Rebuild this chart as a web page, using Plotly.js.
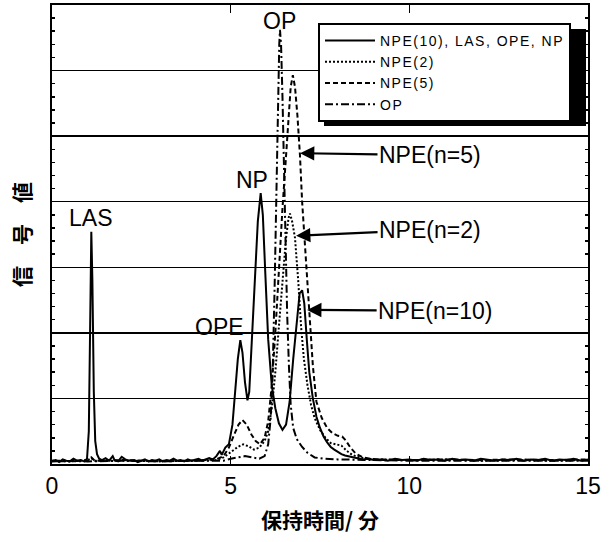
<!DOCTYPE html>
<html>
<head>
<meta charset="utf-8">
<script src="https://cdn.plot.ly/plotly-3.0.1.min.js"></script>
<style>
html,body{margin:0;padding:0;background:#fff;}
#chart{width:616px;height:542px;}
.legendtext{letter-spacing:1.5px;}
</style>
</head>
<body>
<div id="chart"></div>
<script>
// ---- data ----
const seriesNames = ["NPE(10), LAS, OPE, NP", "NPE(2)", "NPE(5)", "OP"];

const solidX = [0.00,0.10,0.20,0.30,0.40,0.50,0.60,0.70,0.80,0.90,0.98,1.03,1.07,1.10,1.13,1.17,1.21,1.26,1.32,1.40,1.50,1.60,1.70,1.75,1.85,1.95,2.05,2.15,2.30,2.40,2.50,2.60,2.70,2.80,2.90,3.00,3.10,3.20,3.30,3.40,3.50,3.60,3.70,3.80,3.90,4.00,4.10,4.20,4.30,4.40,4.50,4.60,4.70,4.75,4.85,4.95,5.05,5.12,5.20,5.27,5.33,5.40,5.47,5.52,5.60,5.68,5.76,5.84,5.90,5.97,6.05,6.15,6.25,6.35,6.45,6.55,6.65,6.75,6.85,6.93,7.00,7.06,7.13,7.20,7.30,7.40,7.50,7.60,7.70,7.80,7.90,8.00,8.10,8.20,8.30,8.40,8.55,8.70,8.85,9.00,9.20,9.40,9.60,9.80,10.0,10.2,10.4,10.6,10.8,11.0,11.2,11.4,11.6,11.8,12.0,12.2,12.4,12.6,12.8,13.0,13.2,13.4,13.6,13.8,14.0,14.2,14.4,14.6,14.8,15.0];
const solidY = [0.04,0.06,0.03,0.07,0.05,0.04,0.08,0.05,0.06,0.04,0.08,0.50,2.20,3.54,2.80,1.10,0.35,0.15,0.08,0.06,0.09,0.05,0.12,0.06,0.04,0.11,0.07,0.05,0.06,0.03,0.05,0.07,0.04,0.06,0.05,0.07,0.04,0.06,0.05,0.08,0.05,0.06,0.04,0.07,0.05,0.06,0.08,0.05,0.07,0.09,0.07,0.12,0.20,0.14,0.25,0.30,0.60,1.10,1.60,1.89,1.70,1.25,0.97,1.10,1.90,2.90,3.70,4.13,3.80,2.90,1.90,1.20,0.85,0.62,0.52,0.60,0.95,1.60,2.20,2.60,2.65,2.45,1.90,1.40,1.00,0.72,0.55,0.42,0.33,0.26,0.22,0.18,0.15,0.13,0.12,0.10,0.09,0.07,0.08,0.06,0.07,0.05,0.08,0.06,0.07,0.05,0.08,0.06,0.07,0.05,0.08,0.06,0.07,0.05,0.08,0.06,0.05,0.07,0.06,0.08,0.05,0.07,0.06,0.08,0.05,0.07,0.06,0.08,0.05,0.07];

const npe2X = [0.0,0.5,1.0,1.1,1.2,2.0,3.0,4.0,4.6,4.8,5.0,5.2,5.35,5.5,5.65,5.8,5.95,6.05,6.15,6.25,6.35,6.45,6.55,6.62,6.66,6.72,6.80,6.89,6.97,7.05,7.15,7.25,7.35,7.5,7.65,7.8,7.95,8.1,8.25,8.4,8.6,8.8,9.0,10,11,12,13,14,15];
const npe2Y = [0.05,0.04,0.06,0.09,0.05,0.05,0.04,0.05,0.06,0.10,0.18,0.26,0.30,0.27,0.22,0.25,0.35,0.50,0.85,1.40,2.10,2.80,3.45,3.75,3.82,3.70,3.45,2.80,2.10,1.60,1.20,0.90,0.70,0.52,0.40,0.32,0.30,0.28,0.20,0.14,0.10,0.08,0.07,0.06,0.07,0.05,0.06,0.05,0.06];

const npe5X = [0.0,1.0,1.1,1.2,2.0,3.0,4.0,4.6,4.8,4.95,5.1,5.22,5.33,5.45,5.58,5.7,5.82,5.95,6.05,6.15,6.25,6.35,6.45,6.55,6.62,6.68,6.74,6.80,6.87,6.94,7.00,7.08,7.14,7.22,7.30,7.40,7.55,7.70,7.85,8.00,8.12,8.22,8.35,8.5,8.7,8.9,9.2,10,11,12,13,14,15];
const npe5Y = [0.04,0.05,0.10,0.05,0.06,0.04,0.05,0.07,0.12,0.25,0.45,0.60,0.67,0.60,0.45,0.35,0.30,0.40,0.65,1.20,2.00,3.00,3.90,4.70,5.30,5.75,5.93,5.75,5.30,4.70,4.00,3.30,2.80,2.10,1.50,0.95,0.70,0.55,0.47,0.43,0.42,0.36,0.25,0.16,0.10,0.08,0.07,0.06,0.07,0.06,0.07,0.06,0.07];

const opX = [0,1,2,3,4,4.8,5.0,5.2,5.4,5.6,5.8,5.95,6.05,6.12,6.18,6.23,6.28,6.32,6.36,6.38,6.41,6.45,6.49,6.53,6.58,6.63,6.68,6.75,6.85,7.0,7.15,7.35,7.6,8.0,9,10,15];
const opY = [0.05,0.04,0.05,0.04,0.05,0.05,0.08,0.10,0.12,0.10,0.08,0.12,0.30,0.70,1.50,2.70,4.20,5.50,6.40,6.62,6.40,5.60,4.50,3.40,2.30,1.50,0.90,0.55,0.38,0.26,0.17,0.10,0.08,0.07,0.06,0.05,0.05];

const xTickVals = [0, 5, 10, 15];
const xTickText = ["0", "5", "10", "15"];

const peakLabels = ["OP", "NP", "LAS", "OPE"];
const peakLabelX = [6.38, 5.60, 1.09, 4.70];
const peakLabelY = [6.76, 4.33, 3.75, 2.09];

const arrowLabels = ["NPE(n=5)", "NPE(n=2)", "NPE(n=10)"];
const arrowTipX = [6.94, 6.83, 7.14];
const arrowTipY = [4.74, 3.48, 2.35];
const arrowAx = [130, 134, 128];
const arrowAy = [2, -6, 1];

// ---- chart ----
const AR = "Arial, 'Liberation Sans', sans-serif";
const traces = [
  {x: solidX, y: solidY, name: seriesNames[0], mode: "lines", line: {color: "#000", width: 2}},
  {x: npe2X, y: npe2Y, name: seriesNames[1], mode: "lines", line: {color: "#000", width: 2, dash: "2px,2px"}},
  {x: npe5X, y: npe5Y, name: seriesNames[2], mode: "lines", line: {color: "#000", width: 2, dash: "5px,3px"}},
  {x: opX, y: opY, name: seriesNames[3], mode: "lines", line: {color: "#000", width: 2, dash: "8px,3px,2px,3px"}}
];

const annotations = [];
for (let i = 0; i < peakLabels.length; i++) {
  annotations.push({x: peakLabelX[i], y: peakLabelY[i], xref: "x", yref: "y", text: peakLabels[i],
    showarrow: false, font: {family: AR, size: 23, color: "#000"}});
}
for (let i = 0; i < arrowLabels.length; i++) {
  annotations.push({x: arrowTipX[i], y: arrowTipY[i], xref: "x", yref: "y", text: arrowLabels[i],
    showarrow: true, ax: arrowAx[i], ay: arrowAy[i], arrowhead: 2, arrowsize: 1.3, arrowwidth: 2.2,
    arrowcolor: "#000", font: {family: AR, size: 23, color: "#000"}});
}

const L = 52, R = 588, T = 5, B = 464;
const px = v => (v - L) / (R - L);
const py = v => (B - v) / (B - T);

const layout = {
  width: 616, height: 542,
  margin: {l: L, r: 616 - R, t: T, b: 542 - B},
  paper_bgcolor: "#fff", plot_bgcolor: "#fff",
  showlegend: true,
  legend: {x: px(318), y: py(23), xanchor: "left", yanchor: "top",
    bgcolor: "#fff", bordercolor: "#000", borderwidth: 2,
    font: {family: AR, size: 14, color: "#000"}, itemwidth: 50, tracegroupgap: 0},
  xaxis: {range: [0, 15], tickvals: xTickVals, ticktext: xTickText, ticks: "inside", ticklen: 8, tickwidth: 1.5,
    tickcolor: "#000", mirror: "ticks", showline: true, linecolor: "#000", linewidth: 2,
    showgrid: false, zeroline: false, automargin: false,
    tickfont: {family: AR, size: 23, color: "#000"},
    title: {text: "保持時間/ 分", standoff: 16, font: {family: "'Noto Sans CJK JP', sans-serif", size: 21, color: "#000", weight: "bold"}}},
  yaxis: {range: [0, 7], dtick: 1, ticks: "inside", ticklen: 6, tickwidth: 1.5, tickcolor: "#000",
    mirror: "ticks", showline: true, linecolor: "#000", linewidth: 2, showticklabels: false,
    showgrid: true, gridcolor: "#000", gridwidth: 1.5, zeroline: false, automargin: false,
    minor: {dtick: 0.2, ticks: "inside", ticklen: 3, tickcolor: "#000", showgrid: false},
    title: {text: "信　号　値", standoff: 14, font: {family: "'Noto Sans CJK JP', sans-serif", size: 21, color: "#000", weight: "bold"}}},
  shapes: [
    {type: "rect", xref: "paper", yref: "paper", x0: px(324), x1: px(586), y0: py(126), y1: py(29),
      fillcolor: "#000", line: {width: 0}, layer: "above"}
  ],
  annotations: annotations
};

Plotly.newPlot("chart", traces, layout, {staticPlot: true, displayModeBar: false});
</script>
</body>
</html>
